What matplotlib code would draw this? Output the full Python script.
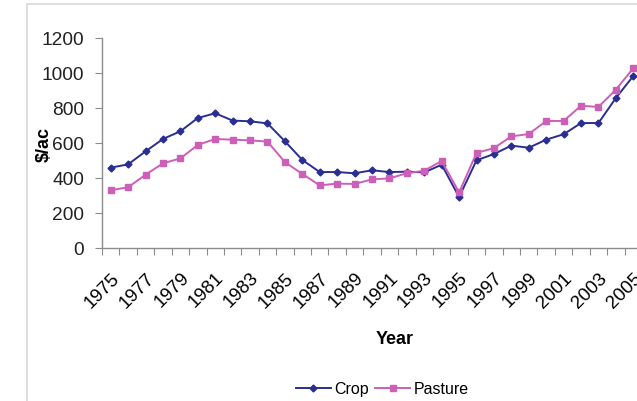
import matplotlib
matplotlib.use("Agg")
import matplotlib.pyplot as plt
from matplotlib.patches import Rectangle

plt.rcParams['font.family'] = ['Liberation Sans', 'DejaVu Sans']

years = list(range(1975, 2006))
crop = [459, 478, 552, 623, 667, 743, 770, 728, 724, 712, 610, 503, 434, 434, 427,
        444, 434, 436, 432, 476, 291, 501, 537, 585, 573, 619, 650, 714, 714, 857, 983]
pasture = [330, 347, 419, 484, 512, 589, 623, 619, 615, 608, 491, 423, 358, 368, 366,
           392, 398, 427, 442, 497, 318, 543, 571, 638, 651, 726, 726, 813, 806, 905, 1027]

W, H = 637, 402
fig = plt.figure(figsize=(W / 100, H / 100), dpi=100)

# outer chart frame
fig.patches.append(Rectangle((27 / W, -0.1), 1.2, (H - 5) / H + 0.1, transform=fig.transFigure,
                             fill=False, edgecolor='#d9d9d9', linewidth=1.2))

ax = fig.add_axes([102 / W, 153 / H, 540 / W, 210 / H])
idx = list(range(len(years)))
ax.plot(idx, crop, color='#2A2E92', marker='D', markersize=3.5, linewidth=1.4, label='Crop')
ax.plot(idx, pasture, color='#CC5FB8', marker='s', markersize=5, linewidth=1.4, label='Pasture')

ax.set_xlim(-0.5, len(years) - 0.5)
ax.set_ylim(0, 1200)
ax.set_yticks(range(0, 1201, 200))

for s in ['top', 'right']:
    ax.spines[s].set_visible(False)
for s in ['left', 'bottom']:
    ax.spines[s].set_color('#8c8c8c')
    ax.spines[s].set_linewidth(1.0)

ax.set_xticks([i - 0.5 for i in range(len(years) + 1)])
ax.set_xticklabels([])
ax.set_xticks(idx[::2], minor=True)
ax.set_xticklabels([str(y) for y in years[::2]], minor=True, rotation=45,
                   ha='right', va='top', rotation_mode='anchor', fontsize=13.5)
ax.tick_params(axis='x', which='major', length=5, color='#8c8c8c', direction='out')
ax.tick_params(axis='x', which='minor', length=0, pad=15)
ax.tick_params(axis='y', length=5, color='#8c8c8c', labelsize=13.8, pad=8)
for lab in ax.get_yticklabels():
    lab.set_color('#222222')

ax.set_ylabel('$/ac', fontsize=13, fontweight='bold')
ax.yaxis.set_label_coords(-0.091, 0.5)

fig.text(395 / W, 1 - 340 / H, 'Year', ha='center', va='center', fontsize=13, fontweight='bold')

fig.legend(loc='center', bbox_to_anchor=(382 / W, 1 - 390 / H), ncol=2, frameon=False,
           fontsize=11.5, handlelength=2.2, handletextpad=0.2, columnspacing=0.4)

fig.savefig('out.png', dpi=100)
